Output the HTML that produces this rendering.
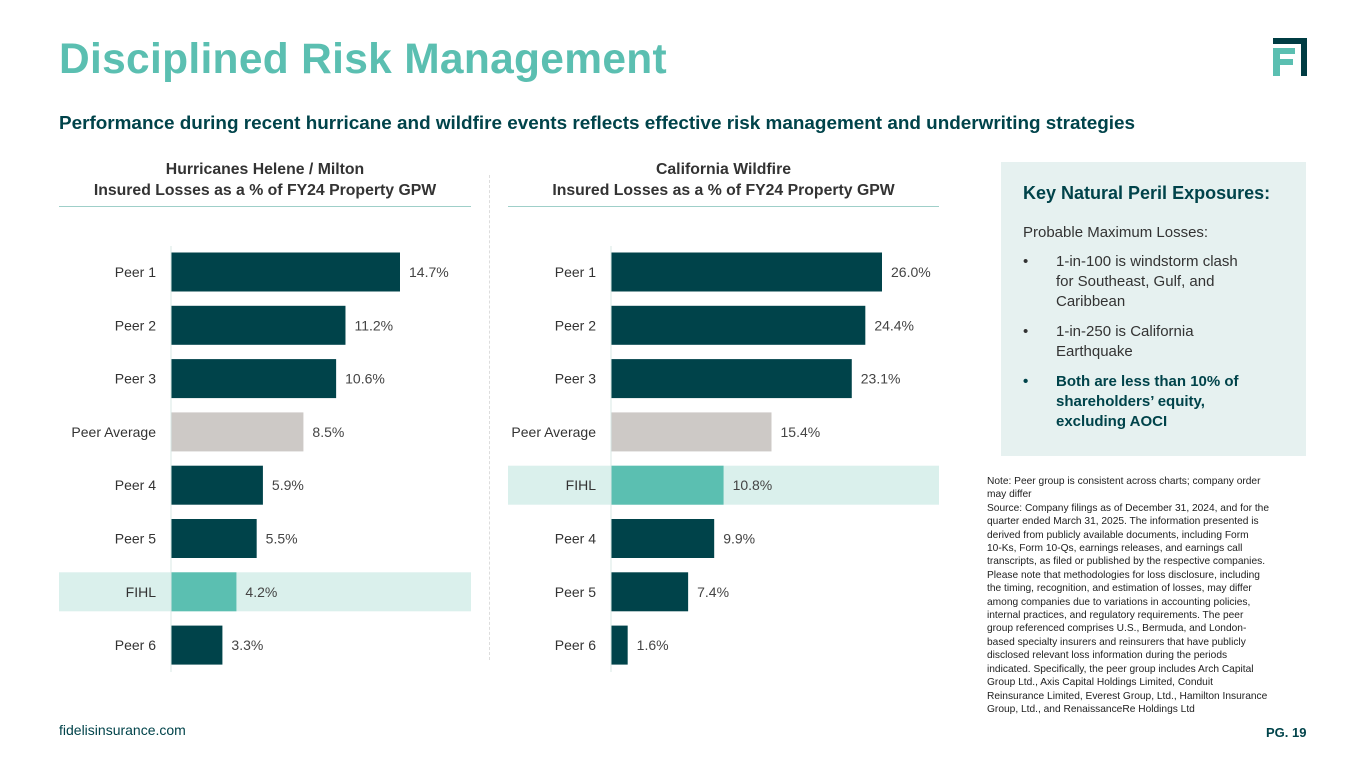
<!DOCTYPE html>
<html><head><meta charset="utf-8"><style>
body{margin:0;width:1365px;height:768px;background:#fff;font-family:"Liberation Sans",sans-serif;position:relative;overflow:hidden}
.abs{position:absolute}
h1{position:absolute;left:59px;top:36px;margin:0;font-size:42.5px;font-weight:bold;color:#5bbfb1;letter-spacing:0.3px}
.sub{left:59px;top:113px;font-size:18.9px;font-weight:bold;color:#00434a}
.ct{font-size:15.8px;font-weight:bold;color:#333;text-align:center;line-height:21px}
.box{left:1001px;top:162px;width:305px;height:294px;background:#e6f1f0}
.note{left:987px;top:475px;width:330px;font-size:10.2px;line-height:13.4px;color:#222}
</style></head><body>
<h1>Disciplined Risk Management</h1>
<svg class="abs" style="left:1270px;top:37px" width="40" height="40"><path d="M3 1H37V39H31V7H3Z" fill="#003c43"/><path d="M3 11H25V17H10V22H23V28H10V39H3Z" fill="#5bbfb1"/></svg>
<div class="abs sub">Performance during recent hurricane and wildfire events reflects effective risk management and underwriting strategies</div>
<div class="abs ct" style="left:59px;top:159px;width:412px">Hurricanes Helene / Milton<br>Insured Losses as a % of FY24 Property GPW</div>
<div class="abs ct" style="left:508px;top:159px;width:431px">California Wildfire<br>Insured Losses as a % of FY24 Property GPW</div>
<div class="abs" style="left:59px;top:206px;width:412px;height:1px;background:#9fcfc9"></div>
<div class="abs" style="left:508px;top:206px;width:431px;height:1px;background:#9fcfc9"></div>
<div class="abs" style="left:489px;top:175px;width:0;height:485px;border-left:1px dashed #ddd"></div>
<svg class="abs" style="left:0;top:0" width="1365" height="768" id="charts"></svg>
<div class="abs box">
<div style="position:absolute;left:22px;top:21px;font-size:18px;font-weight:bold;color:#00434a">Key Natural Peril Exposures:</div>
<div style="position:absolute;left:22px;top:62px;font-size:15px;color:#333">Probable Maximum Losses:</div>
<div style="position:absolute;left:22px;top:90px;font-size:15px;color:#333;line-height:20px">
<div style="display:flex"><span style="width:33px">•</span><span>1-in-100 is windstorm clash<br>for Southeast, Gulf, and<br>Caribbean</span></div>
<div style="display:flex;margin-top:10px"><span style="width:33px">•</span><span>1-in-250 is California<br>Earthquake</span></div>
<div style="display:flex;margin-top:10px;font-weight:bold;color:#00434a"><span style="width:33px">•</span><span>Both are less than 10% of<br>shareholders’ equity,<br>excluding AOCI</span></div>
</div></div>
<div class="abs note">Note: Peer group is consistent across charts; company order<br>may differ<br>Source: Company filings as of December 31, 2024, and for the<br>quarter ended March 31, 2025. The information presented is<br>derived from publicly available documents, including Form<br>10-Ks, Form 10-Qs, earnings releases, and earnings call<br>transcripts, as filed or published by the respective companies.<br>Please note that methodologies for loss disclosure, including<br>the timing, recognition, and estimation of losses, may differ<br>among companies due to variations in accounting policies,<br>internal practices, and regulatory requirements. The peer<br>group referenced comprises U.S., Bermuda, and London-<br>based specialty insurers and reinsurers that have publicly<br>disclosed relevant loss information during the periods<br>indicated. Specifically, the peer group includes Arch Capital<br>Group Ltd., Axis Capital Holdings Limited, Conduit<br>Reinsurance Limited, Everest Group, Ltd., Hamilton Insurance<br>Group, Ltd., and RenaissanceRe Holdings Ltd</div>
<div class="abs" style="left:59px;top:722px;font-size:14px;color:#00434a">fidelisinsurance.com</div>
<div class="abs" style="left:1266px;top:725px;font-size:13px;font-weight:bold;color:#00434a">PG. 19</div>
<script>
const leftCats=["Peer 1","Peer 2","Peer 3","Peer Average","Peer 4","Peer 5","FIHL","Peer 6"];
const leftVals=[14.7,11.2,10.6,8.5,5.9,5.5,4.2,3.3];
const rightCats=["Peer 1","Peer 2","Peer 3","Peer Average","FIHL","Peer 4","Peer 5","Peer 6"];
const rightVals=[26.0,24.4,23.1,15.4,10.8,9.9,7.4,1.6];
const NS="http://www.w3.org/2000/svg";
const svg=document.getElementById('charts');
function mk(t,a){const e=document.createElementNS(NS,t);for(const k in a)e.setAttribute(k,a[k]);svg.appendChild(e);return e;}
function draw(cats,vals,x0,pxPer,bandL,bandR){
  const y=i=>272+i*53.3;
  cats.forEach((c,i)=>{
    const fihl=c==="FIHL",avg=c==="Peer Average";
    if(fihl){const b=mk('rect',{x:bandL,y:y(i)-19.5,width:bandR-bandL,height:39,fill:'#daf0ec'});
      
      }
    const r=mk('rect',{x:x0,y:y(i)-19.5,width:vals[i]*pxPer,height:39,fill:fihl?'#5bbfb1':avg?'#cdc9c6':'#00434a'});
    
    
    const l=mk('text',{x:x0-15,y:y(i)+5,'text-anchor':'end','font-size':14,fill:'#333'});l.textContent=c;
    
    
    const v=mk('text',{x:x0+vals[i]*pxPer+9,y:y(i)+5,'font-size':14,fill:'#444'});v.textContent=vals[i].toFixed(1)+'%';
    
    
  });
  mk('line',{x1:x0,x2:x0,y1:246,y2:672,stroke:'#d8e8e6','stroke-width':1});
}
draw(leftCats,leftVals,171,229/14.7,59,471);
draw(rightCats,rightVals,611,271/26,508,939);
</script>
</body></html>
